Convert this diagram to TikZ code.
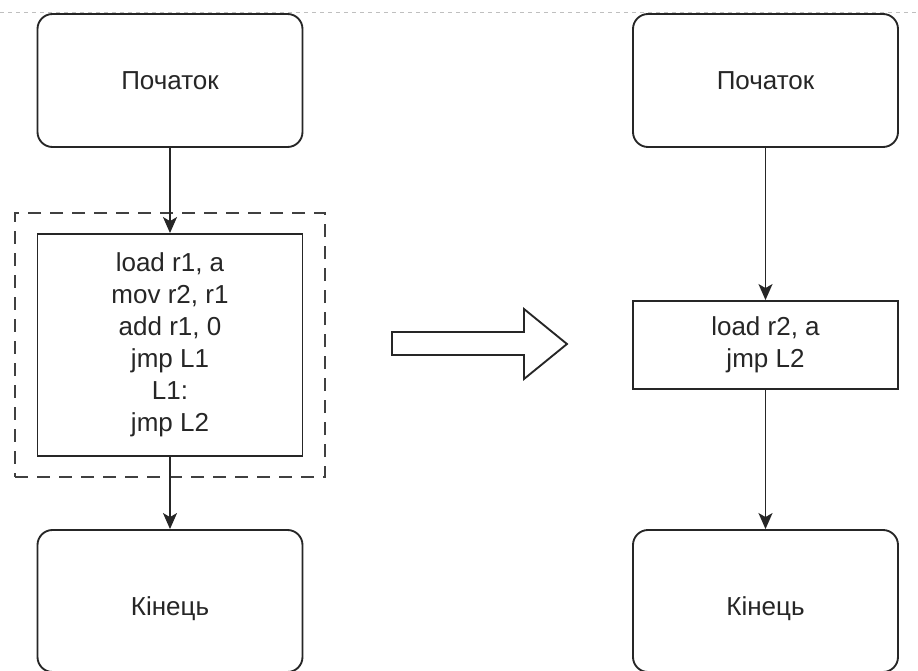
\documentclass[tikz,border=0pt]{standalone}
\usepackage{fontspec}
\setmainfont{Liberation Sans}
\usetikzlibrary{arrows.meta}
\newcommand{\lowtext}[1]{\raisebox{-11pt}[0pt][0pt]{#1}}
\begin{document}
\begin{tikzpicture}[x=0.75pt, y=-0.75pt,
  txt/.style={font=\fontsize{19.5}{24}\selectfont, align=center, text=black!85},
  terminal/.style={txt, draw=black!85, line width=1.4pt, fill=white,
    rounded corners=11.25pt, minimum width=198.75pt, inner sep=0pt},
  opbox/.style={txt, draw=black!85, line width=1.4pt, fill=white,
    minimum width=198.75pt, inner sep=0pt},
  groupbox/.style={draw=black!75, line width=1.4pt, dash pattern=on 9.75pt off 6.75pt,
    minimum width=232.5pt, minimum height=198pt, inner sep=0pt},
  flow/.style={draw=black!85, line width=1.3pt,
    -{Stealth[length=12pt, width=10.5pt, inset=3pt]}},
  pagebreak/.style={draw=black!25, line width=0.8pt, dash pattern=on 3pt off 3pt},
  bigarrow/.style={draw=black!85, line width=1.4pt, fill=white, line join=miter}
]
\useasboundingbox (0,0) rectangle (918,671);

% page break guide
\draw[pagebreak] (0,12.7) -- (918,12.7);

% ---- left column: original code ----
\node[groupbox] (grp) at (170,345) {};
\node[terminal, minimum height=99.75pt] (startL) at (170,80.5) {Початок};
\node[opbox, minimum height=166.5pt] (blockL) at (170,345)
  {load r1, a\\mov r2, r1\\add r1, 0\\jmp L1\\L1:\\jmp L2};
\node[terminal, minimum height=106.5pt] (endL) at (170,601) {\lowtext{Кінець}};

\draw[flow] (startL.south) -- (blockL.north);
\draw[flow] (blockL.south) -- (endL.north);

% ---- transformation arrow ----
\draw[bigarrow] (392,332) -- (524,332) -- (524,309) -- (567,344)
  -- (524,379) -- (524,355) -- (392,355) -- cycle;

% ---- right column: optimised code ----
\node[terminal, minimum height=99.75pt] (startR) at (765.5,80.5) {Початок};
\node[opbox, minimum height=66pt] (blockR) at (765.5,345) {load r2, a\\jmp L2};
\node[terminal, minimum height=106.5pt] (endR) at (765.5,601) {\lowtext{Кінець}};

\draw[flow] (startR.south) -- (blockR.north);
\draw[flow] (blockR.south) -- (endR.north);
\end{tikzpicture}
\end{document}
